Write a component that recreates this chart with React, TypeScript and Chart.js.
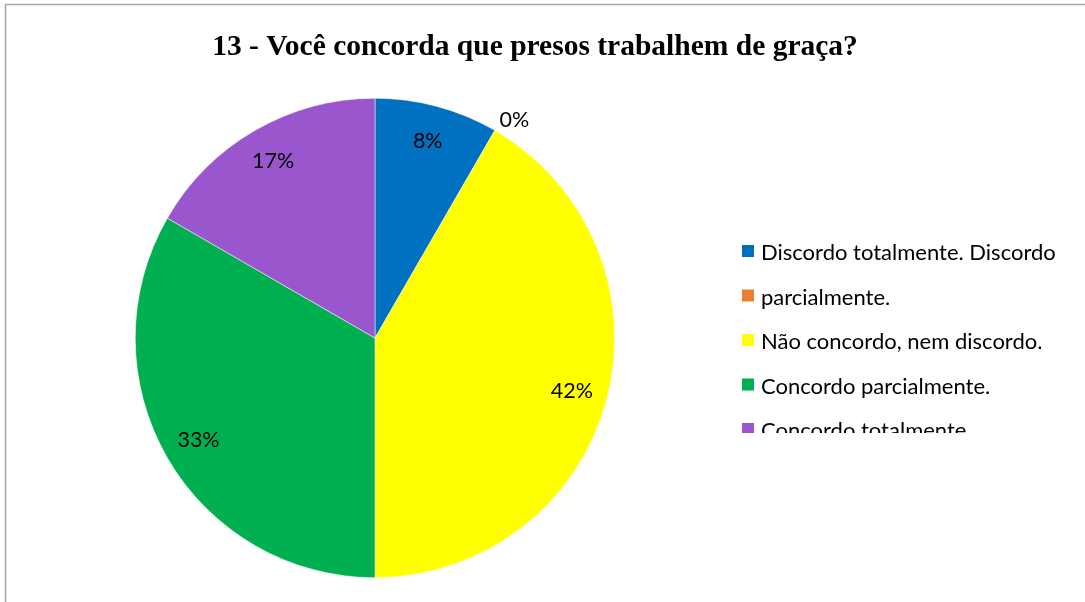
import React, { useEffect, useRef } from "react";
import { Chart, registerables } from "chart.js";

Chart.register(...registerables);

const title = "13 - Você concorda que presos trabalhem de graça?";
const categories = [
  "Discordo totalmente. Discordo",
  "parcialmente.",
  "Não concordo, nem discordo.",
  "Concordo parcialmente.",
  "Concordo totalmente.",
];
const values = [1, 0, 5, 4, 2];
const colors = ["#0070C0", "#ED7D31", "#FFFF00", "#00B050", "#9A57CD"];

const W = 1085;
const H = 602;

const overlayPlugin = {
  id: "overlay",
  afterDraw(chart: any) {
    const ctx = chart.ctx as CanvasRenderingContext2D;
    ctx.save();
    // border
    ctx.strokeStyle = "#a6a6a6";
    ctx.lineWidth = 1.5;
    ctx.beginPath();
    ctx.moveTo(5.5, H + 5);
    ctx.lineTo(5.5, 4.5);
    ctx.lineTo(W + 5, 4.5);
    ctx.stroke();

    // title
    ctx.fillStyle = "#000";
    ctx.font = "bold 29.5px 'Liberation Serif', 'Times New Roman', serif";
    ctx.textAlign = "center";
    ctx.textBaseline = "middle";
    ctx.fillText(title, 535, 47);

    // data labels
    const total = values.reduce((a, b) => a + b, 0);
    const meta = chart.getDatasetMeta(0);
    ctx.font = "21.5px Lato, 'Open Sans', sans-serif";
    meta.data.forEach((arc: any, i: number) => {
      const p = arc.getProps(["x", "y", "startAngle", "endAngle", "outerRadius"], true);
      const mid = (p.startAngle + p.endAngle) / 2;
      const pct = Math.round((values[i] / total) * 100) + "%";
      let r = p.outerRadius * 0.85;
      let x: number, y: number;
      if (values[i] === 0) {
        r = p.outerRadius * 1.08;
        x = p.x + Math.cos(mid) * r + 10;
        y = p.y + Math.sin(mid) * r + 6;
      } else {
        x = p.x + Math.cos(mid) * r;
        y = p.y + Math.sin(mid) * r;
      }
      ctx.fillStyle = "#000";
      ctx.textAlign = "center";
      ctx.textBaseline = "middle";
      ctx.fillText(pct, x, y);
    });

    // legend (clipped)
    ctx.save();
    ctx.beginPath();
    ctx.rect(700, 200, 385, 233);
    ctx.clip();
    ctx.font = "22px Lato, 'Open Sans', sans-serif";
    ctx.textAlign = "left";
    ctx.textBaseline = "middle";
    const rowY0 = 253;
    const rowStep = 44.5;
    categories.forEach((c, i) => {
      const cy = rowY0 + i * rowStep;
      ctx.fillStyle = colors[i];
      ctx.fillRect(742, cy - 8, 12, 12);
      ctx.fillStyle = "#000";
      ctx.fillText(c, 761, cy);
    });
    ctx.restore();
    ctx.restore();
  },
};

export default function App() {
  const ref = useRef<HTMLCanvasElement>(null);
  useEffect(() => {
    document.body.style.margin = "0";
    const chart = new Chart(ref.current as HTMLCanvasElement, {
      type: "pie",
      data: {
        labels: categories,
        datasets: [
          {
            data: values,
            backgroundColor: colors,
            borderColor: "#ffffff",
            borderWidth: 0.5,
          },
        ],
      },
      options: {
        responsive: false,
        animation: false,
        layout: {
          padding: { left: 135, right: 470, top: 98, bottom: 24 },
        },
        plugins: {
          legend: { display: false },
          title: { display: false },
          tooltip: { enabled: false },
        },
      },
      plugins: [overlayPlugin],
    });
    return () => chart.destroy();
  }, []);
  return (
    <div style={{ width: W, height: H, background: "#fff", position: "relative" }}>
      <canvas ref={ref} width={W} height={H} style={{ display: "block" }} />
    </div>
  );
}
